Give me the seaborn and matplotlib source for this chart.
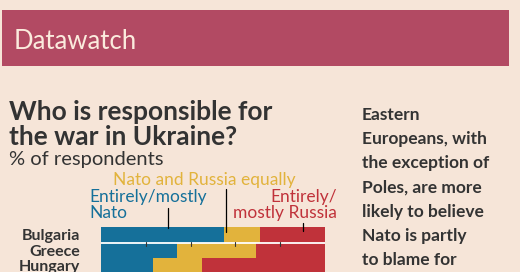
import numpy as np
import pandas as pd
import matplotlib
matplotlib.use("Agg")
import matplotlib.pyplot as plt
import matplotlib.transforms as mtransforms
from matplotlib.patches import Rectangle
import seaborn as sns

# data (% of respondents)
countries = ["Bulgaria", "Greece", "Hungary"]
nato = [55, 34, 23]
equally = [16, 35, 22]
russia = [29, 31, 55]

BG = "#F6E5D8"
BLUE = "#15709A"
YELLOW = "#E2B33C"
RED = "#C0323A"
DARK = "#333333"

sns.set_theme(style="white")
plt.rcParams["font.family"] = ["Lato", "DejaVu Sans"]

W, H = 520, 272
fig = plt.figure(figsize=(W / 100, H / 100), dpi=100, facecolor=BG)


def fx(px):
    return px / W


def fy(px):
    return 1 - px / H


# banner
fig.patches.append(Rectangle((fx(2), fy(66)), fx(507), 56 / H, transform=fig.transFigure,
                             facecolor="#B24A63", edgecolor="none", zorder=0))
fig.text(fx(14), fy(49), "Datawatch", color="#FBEBDD", fontsize=18.5, va="baseline")

# titles
fig.text(fx(9), fy(120), "Who is responsible for", color=DARK, fontsize=19,
         fontweight="bold", va="baseline")
fig.text(fx(9), fy(145), "the war in Ukraine?", color=DARK, fontsize=19,
         fontweight="bold", va="baseline")
fig.text(fx(9), fy(165), "% of respondents", color=DARK, fontsize=14.5, va="baseline")

# side note
note = ["Eastern", "Europeans, with", "the exception of", "Poles, are more",
        "likely to believe", "Nato is partly", "to blame for"]
for i, line in enumerate(note):
    fig.text(fx(362), fy(120 + i * 24.2), line, color=DARK, fontsize=12.5,
             fontweight="bold", va="baseline")

# stacked bars: draw cumulative totals back to front
df = pd.DataFrame({"country": countries, "nato": nato, "equally": equally, "russia": russia})
df["c1"] = df["nato"]
df["c2"] = df["nato"] + df["equally"]
df["c3"] = df["c2"] + df["russia"]

row_px = 15.5
ax = fig.add_axes([fx(101), fy(227 + row_px * len(countries)), fx(224),
                   row_px * len(countries) / H])
ax.set_facecolor("none")
for col, c in [("c3", RED), ("c2", YELLOW), ("c1", BLUE)]:
    sns.barplot(data=df, y="country", x=col, color=c, width=1.0, orient="h",
                saturation=1, ax=ax, edgecolor="none", linewidth=0)

ax.set_xlim(0, 100)
ax.set_ylim(len(countries) - 0.5, -0.5)
ax.set_xlabel("")
ax.set_ylabel("")
ax.set_xticks([])
ax.set_yticks(range(len(countries)))
ax.set_yticklabels(countries, fontsize=11.5, fontweight="bold", color=DARK)
ax.tick_params(axis="y", length=0, pad=15)
for s in ax.spines.values():
    s.set_visible(False)

# white scale line with ticks between first and second row
ax.plot([0, 100], [0.5, 0.5], color="white", lw=1.3, zorder=5)
for t in [20, 40, 60, 80]:
    ax.plot([t, t], [0.45, 0.75], color=DARK, lw=0.8, zorder=6)

# legend labels with leader lines
tr = mtransforms.blended_transform_factory(ax.transData, fig.transFigure)
ax.plot([30, 30], [fy(208), fy(228)], color="black", lw=0.9, transform=tr, clip_on=False, zorder=7)
ax.plot([56, 56], [fy(189), fy(232)], color="black", lw=0.9, transform=tr, clip_on=False, zorder=7)
ax.plot([90, 90], [fy(223), fy(231)], color="black", lw=0.9, transform=tr, clip_on=False, zorder=7)

fig.text(fx(113), fy(185), "Nato and Russia equally", color=YELLOW, fontsize=12.5, va="baseline")
fig.text(fx(89), fy(202), "Entirely/mostly", color=BLUE, fontsize=12.5, va="baseline")
fig.text(fx(89), fy(218), "Nato", color=BLUE, fontsize=12.5, va="baseline")
fig.text(fx(337), fy(202), "Entirely/", color=RED, fontsize=12.5, va="baseline", ha="right")
fig.text(fx(337), fy(218), "mostly Russia", color=RED, fontsize=12.5, va="baseline", ha="right")

fig.savefig("out.png", dpi=100, facecolor=BG)
